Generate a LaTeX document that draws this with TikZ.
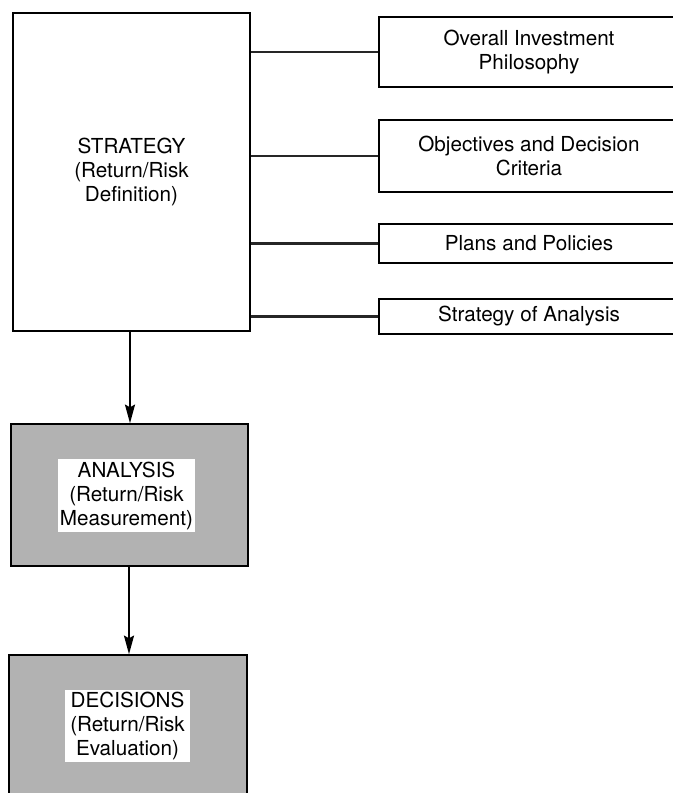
\documentclass[tikz,border=0pt]{standalone}
\usepackage{fontspec}
\setmainfont{TeX Gyre Heros}
\usetikzlibrary{arrows.meta}

\begin{document}
\begin{tikzpicture}[x=0.75pt,y=-0.75pt,
	box/.style={draw, line width=1.1pt, align=center, inner sep=0pt,
		font=\fontsize{15.5}{18}\selectfont},
	shaded/.style={box, fill=black!30},
	patch/.style={fill=white, align=center, inner sep=0pt,
		font=\fontsize{15.5}{18}\selectfont},
	link/.style={line width=2.2pt, draw=black!85},
	flow/.style={line width=1.4pt, -{Stealth[length=14pt,width=7.5pt,inset=2pt]}}]
	\useasboundingbox (0,0) rectangle (673,793);
	\clip (0,0) rectangle (673,793);

	% left column
	\node[box, minimum width=177.75pt, minimum height=238.5pt] (strategy) at (131.5,172) {STRATEGY\\(Return/Risk\\Definition)};
	\node[shaded, minimum width=177.75pt, minimum height=106.5pt] (analysis) at (129.5,495) {};
	\node[patch, minimum width=102.75pt, minimum height=54.75pt] (analysistxt) at (126.5,495.5) {ANALYSIS\\(Return/Risk\\Measurement)};
	\node[shaded, minimum width=178.5pt, minimum height=112.5pt] (decisions) at (128,730) {};
	\node[patch, minimum width=93.75pt, minimum height=54pt] (decisionstxt) at (127.5,726) {DECISIONS\\(Return/Risk\\Evaluation)};

	% right column
	\node[box, minimum width=225pt, minimum height=52.5pt] (philosophy) at (529,52) {Overall Investment\\Philosophy};
	\node[box, minimum width=225pt, minimum height=54pt] (objectives) at (529,156) {Objectives and Decision\\Criteria};
	\node[box, minimum width=225pt, minimum height=29.25pt] (plans) at (529,243.5) {Plans and Policies};
	\node[box, minimum width=225pt, minimum height=26.25pt] (analysisplan) at (529,316.5) {Strategy of Analysis};

	\draw[link] (philosophy.west -| strategy.east) -- (philosophy.west);
	\draw[link] (objectives.west -| strategy.east) -- (objectives.west);
	\draw[link] (plans.west -| strategy.east) -- (plans.west);
	\draw[link] (analysisplan.west -| strategy.east) -- (analysisplan.west);

	\draw[flow] (strategy.south -| 130,0) -- (analysis.north -| 130,0);
	\draw[flow] (analysis.south -| 129,0) -- (decisions.north -| 129,0);
\end{tikzpicture}
\end{document}
